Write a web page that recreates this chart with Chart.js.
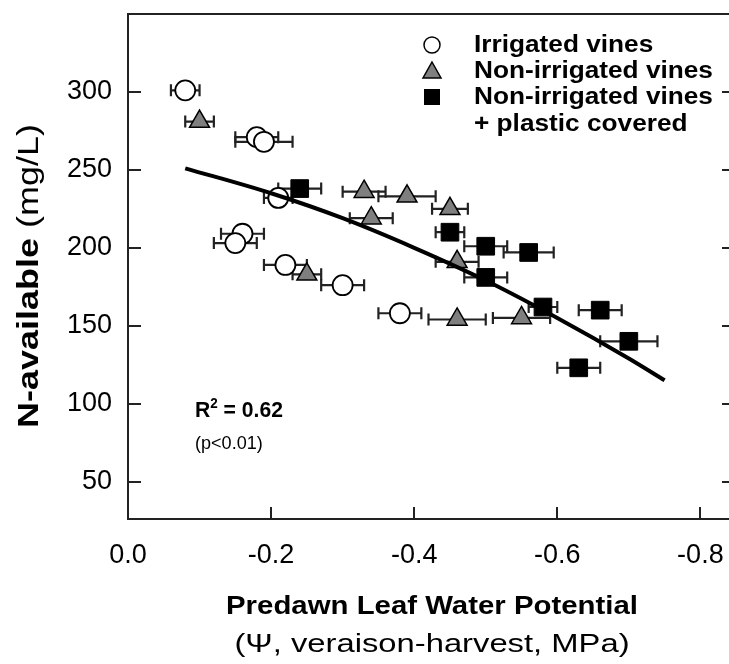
<!DOCTYPE html>
<html>
<head>
<meta charset="utf-8">
<script src="https://cdn.jsdelivr.net/npm/chart.js@4.4.1/dist/chart.umd.min.js"></script>
<style>
  html, body { margin: 0; padding: 0; background: #fff; }
  #wrap { width: 729px; height: 664px; }
</style>
</head>
<body>
<div id="wrap"><canvas id="chart" width="729" height="664"></canvas></div>
<script>
// values (x = predawn leaf water potential, MPa; y = N-available, mg/L)
const irrigatedX   = [-0.08, -0.18, -0.19, -0.21, -0.16, -0.15, -0.22, -0.30, -0.38];
const irrigatedY   = [301, 271, 268, 232, 209, 203, 189, 176, 158];
const irrigatedErr = [0.02, 0.03, 0.04, 0.02, 0.03, 0.03, 0.03, 0.03, 0.03];

const nonIrrX   = [-0.10, -0.33, -0.39, -0.45, -0.34, -0.25, -0.46, -0.46, -0.55];
const nonIrrY   = [281, 236, 233, 225, 219, 183, 191, 154, 155];
const nonIrrErr = [0.02, 0.03, 0.04, 0.025, 0.03, 0.02, 0.03, 0.04, 0.04];

const coveredX   = [-0.24, -0.45, -0.50, -0.50, -0.56, -0.58, -0.66, -0.70, -0.63];
const coveredY   = [238, 210, 201, 181, 197, 162, 160, 140, 123];
const coveredErr = [0.03, 0.02, 0.03, 0.03, 0.035, 0.02, 0.03, 0.04, 0.03];

// regression curve as traced on the figure
const fitX = [-0.08, -0.2, -0.3, -0.4, -0.5, -0.6, -0.7, -0.75];
const fitY = [251, 235, 219, 200, 179, 155, 129, 115];

const xTicks = [0, -0.2, -0.4, -0.6, -0.8];
const yTicks = [50, 100, 150, 200, 250, 300];

const legendLabels = ['Irrigated vines', 'Non-irrigated vines', 'Non-irrigated vines', '+ plastic covered'];

const FONT = '"Liberation Sans", Arial, sans-serif';
const AXIS = '#222';

function pts(xs, ys) {
  return xs.map((x, i) => ({ x: x, y: ys[i] }));
}

function stretchText(ctx, text, x, y, font, sx, align) {
  ctx.save();
  ctx.font = font;
  const w = ctx.measureText(text).width * sx;
  let left = x;
  if (align === 'center') left = x - w / 2;
  ctx.translate(left, y);
  ctx.scale(sx, 1);
  ctx.textAlign = 'left';
  ctx.fillText(text, 0, 0);
  ctx.restore();
  return w;
}

const errorBars = {
  id: 'errorBars',
  beforeDatasetsDraw(chart) {
    const ctx = chart.ctx;
    const xs = chart.scales.x, ys = chart.scales.y;
    const groups = [
      [irrigatedX, irrigatedY, irrigatedErr],
      [nonIrrX, nonIrrY, nonIrrErr],
      [coveredX, coveredY, coveredErr]
    ];
    ctx.save();
    ctx.strokeStyle = '#222';
    ctx.lineWidth = 2.2;
    groups.forEach(g => {
      g[0].forEach((x, i) => {
        const a = xs.getPixelForValue(x - g[2][i]);
        const b = xs.getPixelForValue(x + g[2][i]);
        const py = ys.getPixelForValue(g[1][i]);
        ctx.beginPath();
        ctx.moveTo(a, py); ctx.lineTo(b, py);
        ctx.moveTo(a, py - 6); ctx.lineTo(a, py + 6);
        ctx.moveTo(b, py - 6); ctx.lineTo(b, py + 6);
        ctx.stroke();
      });
    });
    ctx.restore();
  }
};

const frame = {
  id: 'frame',
  afterDraw(chart) {
    const ctx = chart.ctx;
    const a = chart.chartArea;
    const xs = chart.scales.x, ys = chart.scales.y;
    ctx.save();
    ctx.strokeStyle = AXIS;
    ctx.lineWidth = 2;
    ctx.beginPath();
    ctx.moveTo(a.right, a.top); ctx.lineTo(a.left, a.top);
    ctx.lineTo(a.left, a.bottom); ctx.lineTo(a.right, a.bottom);
    yTicks.forEach(v => {
      const py = Math.round(ys.getPixelForValue(v));
      ctx.moveTo(a.left, py); ctx.lineTo(a.left + 13, py);
      ctx.moveTo(a.right - 7, py); ctx.lineTo(a.right, py);
    });
    xTicks.forEach(v => {
      const px = Math.round(xs.getPixelForValue(v));
      if (v === 0) return;
      ctx.moveTo(px, a.bottom); ctx.lineTo(px, a.bottom - 12);
    });
    ctx.stroke();

    // legend
    const lx = 432;
    const rows = [45, 71, 97, 124];
    ctx.lineWidth = 1.5;
    ctx.strokeStyle = '#000';
    ctx.beginPath();
    ctx.arc(lx, rows[0], 8, 0, Math.PI * 2);
    ctx.fillStyle = '#fff'; ctx.fill(); ctx.stroke();
    ctx.beginPath();
    ctx.moveTo(lx, rows[1] - 9); ctx.lineTo(lx + 9, rows[1] + 7); ctx.lineTo(lx - 9, rows[1] + 7); ctx.closePath();
    ctx.fillStyle = '#7f7f7f'; ctx.fill(); ctx.stroke();
    ctx.fillStyle = '#000';
    ctx.fillRect(lx - 8, rows[2] - 8, 16, 16);
    ctx.textBaseline = 'middle';
    legendLabels.forEach((t, i) => {
      stretchText(ctx, t, 474, rows[i] + 1, 'bold 23px ' + FONT, 1.14, 'left');
    });

    // R squared note
    ctx.textBaseline = 'alphabetic';
    let x0 = 195;
    x0 += stretchText(ctx, 'R', x0, 417, 'bold 22px ' + FONT, 0.96, 'left');
    x0 += stretchText(ctx, '2', x0, 408, 'bold 14px ' + FONT, 0.96, 'left');
    stretchText(ctx, ' = 0.62', x0, 417, 'bold 22px ' + FONT, 0.96, 'left');
    stretchText(ctx, '(p<0.01)', 195, 449, '19px ' + FONT, 0.95, 'left');

    // x title
    ctx.textBaseline = 'middle';
    stretchText(ctx, 'Predawn Leaf Water Potential', 432, 607, 'bold 26px ' + FONT, 1.13, 'center');
    stretchText(ctx, '(\u03A8, veraison-harvest, MPa)', 432, 645, '26px ' + FONT, 1.26, 'center');

    // y title, rotated
    ctx.translate(30, 276);
    ctx.rotate(-Math.PI / 2);
    const sx = 1.24;
    ctx.font = 'bold 29px ' + FONT;
    const w1 = ctx.measureText('N-available').width * sx;
    ctx.font = '29px ' + FONT;
    const w2 = ctx.measureText(' (mg/L)').width * sx;
    const start = -(w1 + w2) / 2;
    stretchText(ctx, 'N-available', start, 0, 'bold 29px ' + FONT, sx, 'left');
    stretchText(ctx, ' (mg/L)', start + w1, 0, '29px ' + FONT, sx, 'left');
    ctx.restore();
  }
};

new Chart(document.getElementById('chart'), {
  type: 'scatter',
  data: {
    datasets: [
      {
        type: 'line',
        label: 'fit',
        data: pts(fitX, fitY),
        borderColor: '#000',
        borderWidth: 4,
        pointRadius: 0,
        fill: false,
        cubicInterpolationMode: 'monotone'
      },
      {
        label: 'Irrigated vines',
        data: pts(irrigatedX, irrigatedY),
        pointStyle: 'circle',
        pointRadius: 10,
        backgroundColor: '#fff',
        borderColor: '#000',
        borderWidth: 1.8
      },
      {
        label: 'Non-irrigated vines',
        data: pts(nonIrrX, nonIrrY),
        pointStyle: 'triangle',
        pointRadius: 11.5,
        backgroundColor: '#7f7f7f',
        borderColor: '#000',
        borderWidth: 1.5
      },
      {
        label: 'Non-irrigated vines + plastic covered',
        data: pts(coveredX, coveredY),
        pointStyle: 'rect',
        pointRadius: 12.5,
        backgroundColor: '#000',
        borderColor: '#000',
        borderWidth: 1
      }
    ]
  },
  options: {
    responsive: false,
    devicePixelRatio: 1,
    animation: false,
    layout: { autoPadding: false, padding: { top: 14, right: 0, left: 0, bottom: 0 } },
    plugins: {
      legend: { display: false },
      tooltip: { enabled: false }
    },
    scales: {
      x: {
        type: 'linear',
        reverse: true,
        min: -0.84,
        max: 0,
        grid: { display: false, drawTicks: false },
        border: { display: false },
        ticks: {
          color: '#000',
          font: { size: 27, family: FONT },
          padding: 20,
          maxRotation: 0,
          autoSkip: false,
          callback: v => v.toFixed(1)
        },
        afterBuildTicks: s => { s.ticks = xTicks.map(v => ({ value: v })); },
        afterFit: s => { s.height = 145; s.paddingLeft = 0; s.paddingRight = 0; }
      },
      y: {
        type: 'linear',
        min: 26,
        max: 350,
        grid: { display: false, drawTicks: false },
        border: { display: false },
        ticks: {
          color: '#000',
          font: { size: 27, family: FONT },
          padding: 16,
          autoSkip: false
        },
        afterBuildTicks: s => { s.ticks = yTicks.map(v => ({ value: v })); },
        afterFit: s => { s.width = 128; s.paddingTop = 0; s.paddingBottom = 0; }
      }
    }
  },
  plugins: [errorBars, frame]
});
</script>
</body>
</html>
